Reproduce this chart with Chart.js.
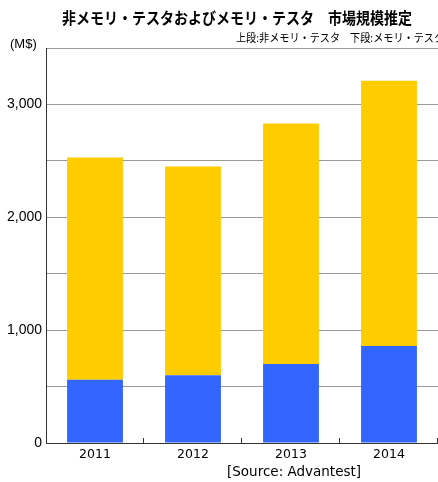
<!DOCTYPE html>
<html>
<head>
<meta charset="utf-8">
<script src="https://cdn.jsdelivr.net/npm/chart.js@4.4.0/dist/chart.umd.min.js"></script>
<style>
    body { margin: 0; background: #fff; }
    #wrap { width: 438px; height: 482px; position: relative; }
</style>
</head>
<body>
<div id="wrap"><canvas id="grafico"></canvas></div>
<script>
// datos (M$)
const anios = ['2011', '2012', '2013', '2014'];
const memoria = [560, 600, 700, 860];          // tramo inferior: memoria
const noMemoria = [1970, 1850, 2130, 2350];     // tramo superior: no memoria
const ticksY = [0, 1000, 2000, 3000];

const titulo = '非メモリ・テスタおよびメモリ・テスタ　市場規模推定';
const subtitulo = '上段:非メモリ・テスタ　下段:メモリ・テスタ';
const fuente = '[Source: Advantest]';

const textos = {
    id: 'textos',
    afterDraw(chart) {
        const ctx = chart.ctx;
        ctx.save();
        ctx.fillStyle = '#000';
        ctx.textBaseline = 'middle';
        ctx.textAlign = 'left';
        ctx.font = 'bold 16px "Noto Sans CJK JP"';
        ctx.fillText(titulo, 62, 18, 350);
        ctx.font = '11.5px "Noto Sans CJK JP"';
        ctx.fillText(subtitulo, 236, 38, 208);
        ctx.font = '13px "Liberation Sans"';
        ctx.fillText('(M$)', 10, 44);
        ctx.font = '13.5px "DejaVu Sans"';
        ctx.fillText(fuente, 227, 472, 137);

        // marcas cortas entre categorias
        const x = chart.scales.x;
        const a = chart.chartArea;
        ctx.strokeStyle = '#333';
        ctx.lineWidth = 1;
        for (let i = 0; i < anios.length; i++) {
            let px = Math.round(x.getPixelForValue(i) + (x.getPixelForValue(1) - x.getPixelForValue(0)) / 2) - 0.5;
            ctx.beginPath();
            ctx.moveTo(px, a.bottom);
            ctx.lineTo(px, a.bottom - 5);
            ctx.stroke();
        }
        ctx.restore();
    }
};

new Chart(document.getElementById('grafico'), {
    type: 'bar',
    data: {
        labels: anios,
        datasets: [{
            label: 'メモリ・テスタ',
            data: memoria,
            backgroundColor: '#3366FF',
            categoryPercentage: 0.57,
            barPercentage: 1
        }, {
            label: '非メモリ・テスタ',
            data: noMemoria,
            backgroundColor: '#FFCC00',
            categoryPercentage: 0.57,
            barPercentage: 1
        }]
    },
    options: {
        responsive: true,
        maintainAspectRatio: false,
        animation: false,
        layout: { padding: { top: 48, right: 0, left: 0, bottom: 0 } },
        plugins: {
            legend: { display: false },
            tooltip: { enabled: false }
        },
        scales: {
            x: {
                stacked: true,
                grid: { display: false, drawTicks: false },
                border: { color: '#333', width: 1 },
                ticks: {
                    color: '#000',
                    padding: 4,
                    font: { family: 'DejaVu Sans', size: 12.5 }
                },
                afterFit(scale) { scale.height = 39; }
            },
            y: {
                stacked: true,
                min: 0,
                max: 3500,
                grid: { color: '#999', drawTicks: false },
                border: { color: '#333', width: 1 },
                ticks: {
                    stepSize: 500,
                    color: '#000',
                    padding: 4,
                    font: { family: 'Liberation Sans', size: 14 },
                    callback: function (v) {
                        return ticksY.includes(v) ? v.toLocaleString('en-US') : '';
                    }
                },
                afterFit(scale) { scale.width = 46; }
            }
        }
    },
    plugins: [textos]
});
</script>
</body>
</html>
